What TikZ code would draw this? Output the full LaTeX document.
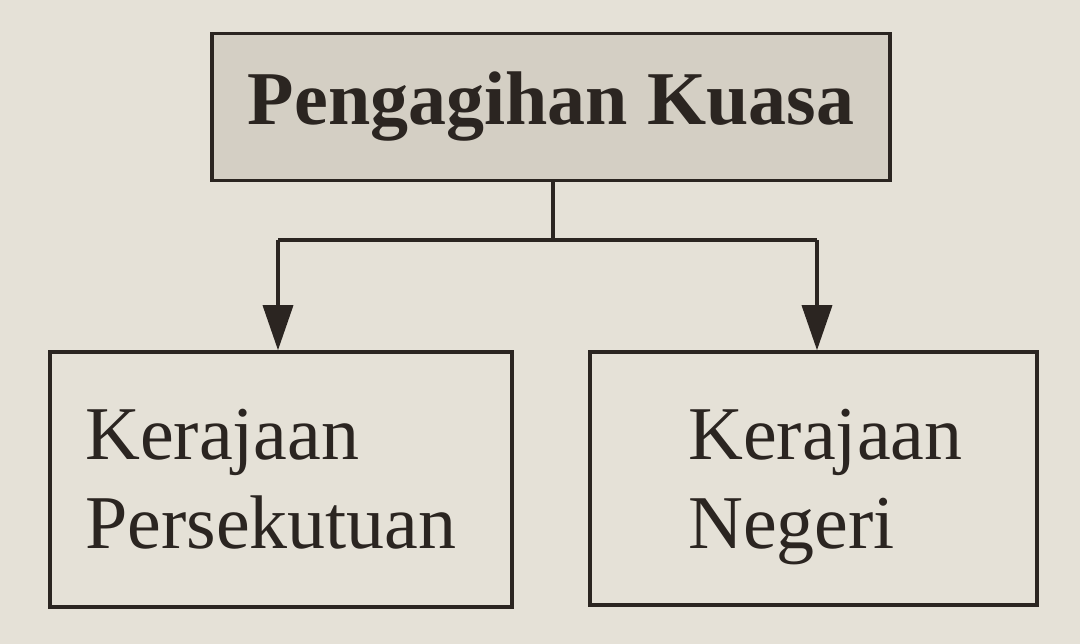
\documentclass[tikz,border=0pt]{standalone}
\usepackage{fontspec}
\setmainfont{Liberation Serif}
\usetikzlibrary{arrows.meta}
\definecolor{paper}{HTML}{E5E1D7}
\definecolor{boxgray}{HTML}{D4CFC4}
\definecolor{ink}{HTML}{2B2521}
\tikzset{
  box/.style={draw=ink, line width=3.5pt, inner sep=0pt},
  conn/.style={draw=ink, line width=3.5pt},
  arr/.style={conn, -{Triangle[width=30pt,length=45pt]}},
  lbl/.style={text=ink, inner sep=0pt, anchor=base west, font=\fontsize{76}{88}\selectfont}
}
\begin{document}
\begin{tikzpicture}[x=1pt,y=-1pt]
\fill[paper] (0,0) rectangle (1080,644);
\useasboundingbox (0,0) rectangle (1080,644);
\node[box, fill=boxgray, minimum width=678pt, minimum height=147pt,
      text=ink, font=\bfseries\fontsize{76}{88}\selectfont] (top) at (551,107) {Pengagihan Kuasa};
\node[box, minimum width=462pt, minimum height=255pt] (left) at (281,479.5) {};
\node[box, minimum width=447pt, minimum height=253pt] (right) at (813.5,478.5) {};
\node[lbl] (l1) at (85,460) {Kerajaan};
\node[lbl] (l2) at (85,548) {Persekutuan};
\node[lbl] (r1) at (688,460) {Kerajaan};
\node[lbl] (r2) at (688,548) {Negeri};
\draw[conn] ([xshift=2pt]top.south) -- ++(0,58) coordinate (j);
\draw[arr] ([xshift=-275pt]j) -- ([xshift=-3pt]left.north);
\draw[arr] ([xshift=264pt]j) -- ([xshift=3.5pt]right.north);
\draw[conn] ([xshift=-275pt]j) -- ([xshift=264pt]j);
\end{tikzpicture}
\end{document}
